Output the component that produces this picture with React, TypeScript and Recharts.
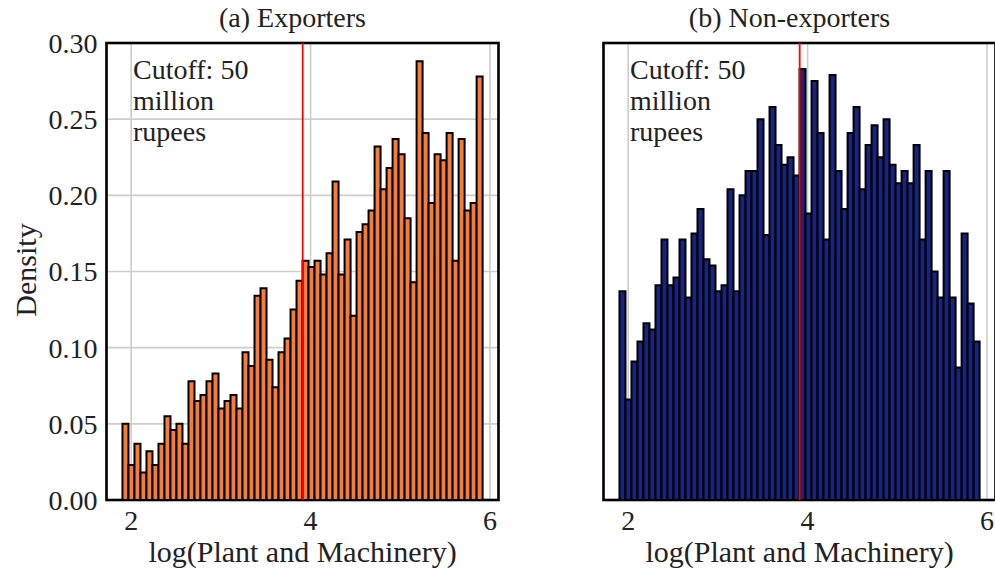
import {
  Bar,
  BarChart,
  CartesianGrid,
  Customized,
  ReferenceLine,
  XAxis,
  YAxis,
} from "recharts";

// 60 histogram bins per panel, spanning BIN_RANGE on the log scale
const binIds = Array.from({ length: 60 }, (_, i) => `b${i}`);

const exportersDensity = [
  0.050, 0.023, 0.037, 0.018, 0.032, 0.023, 0.037, 0.055, 0.046, 0.050,
  0.037, 0.078, 0.065, 0.069, 0.078, 0.083, 0.060, 0.065, 0.069, 0.060,
  0.097, 0.088, 0.134, 0.139, 0.092, 0.074, 0.097, 0.106, 0.125, 0.144,
  0.157, 0.153, 0.157, 0.148, 0.162, 0.209, 0.148, 0.171, 0.121, 0.176,
  0.181, 0.190, 0.232, 0.204, 0.218, 0.237, 0.227, 0.185, 0.143, 0.288,
  0.241, 0.195, 0.227, 0.223, 0.241, 0.157, 0.237, 0.190, 0.195, 0.278,
];

const nonExportersDensity = [
  0.137, 0.066, 0.091, 0.104, 0.116, 0.112, 0.141, 0.171, 0.141, 0.146,
  0.171, 0.133, 0.175, 0.191, 0.158, 0.154, 0.137, 0.141, 0.204, 0.137,
  0.200, 0.216, 0.216, 0.250, 0.174, 0.258, 0.233, 0.220, 0.225, 0.213,
  0.283, 0.188, 0.275, 0.241, 0.171, 0.279, 0.216, 0.191, 0.241, 0.258,
  0.204, 0.233, 0.246, 0.225, 0.250, 0.220, 0.208, 0.216, 0.208, 0.233,
  0.171, 0.216, 0.150, 0.133, 0.216, 0.133, 0.087, 0.175, 0.129, 0.104,
];

const xTicks = [2, 4, 6];
const yTicks = [0, 0.05, 0.1, 0.15, 0.2, 0.25, 0.3];
const X_DOMAIN: [number, number] = [1.725, 6.095];
const BIN_RANGE: [number, number] = [1.903, 5.918];
const CUTOFF = 3.912; // log(50)
const annotation = ["Cutoff: 50", "million", "rupees"];

const FONT = "'Liberation Serif', 'Times New Roman', serif";
const TEXT = "#222";
const PLOT_TOP = 43;
const PLOT_H = 457;
const PLOT_W = 392;
const HEIGHT = 575;

const pxPerUnit = PLOT_W / (X_DOMAIN[1] - X_DOMAIN[0]);
const padLeft = (BIN_RANGE[0] - X_DOMAIN[0]) * pxPerUnit;
const padRight = (X_DOMAIN[1] - BIN_RANGE[1]) * pxPerUnit;
const binWidth = (BIN_RANGE[1] - BIN_RANGE[0]) / binIds.length;

const tickStyle = { fontSize: 28, fontFamily: FONT, fill: TEXT };

type PanelProps = {
  title: string;
  values: number[];
  fill: string;
  left: number;
  yAxisWidth: number;
  rightMargin: number;
  showYLabels: boolean;
};

function Panel({ title, values, fill, left, yAxisWidth, rightMargin, showYLabels }: PanelProps) {
  const rows = values.map((v, i) => ({
    bin: binIds[i],
    x: BIN_RANGE[0] + (i + 0.5) * binWidth,
    density: v,
  }));
  const width = yAxisWidth + PLOT_W + rightMargin;
  const plotCenter = yAxisWidth + PLOT_W / 2;
  const textX = yAxisWidth + 26.5;

  // frame, title, annotation and axis titles
  const Overlay = () => (
    <g fontFamily={FONT} fill={TEXT}>
      <rect
        x={yAxisWidth}
        y={PLOT_TOP}
        width={PLOT_W}
        height={PLOT_H}
        fill="none"
        stroke="#000"
        strokeWidth={2.6}
      />
      <text x={plotCenter - 10} y={27} textAnchor="middle" fontSize={28}>
        {title}
      </text>
      {annotation.map((line, i) => (
        <text key={line} x={textX} y={79 + i * 31} fontSize={28}>
          {line}
        </text>
      ))}
      {showYLabels && (
        <text transform="translate(36,270) rotate(-90)" textAnchor="middle" fontSize={30}>
          Density
        </text>
      )}
      <text x={plotCenter} y={562} textAnchor="middle" fontSize={30}>
        log(Plant and Machinery)
      </text>
    </g>
  );

  return (
    <div style={{ position: "absolute", left, top: 0 }}>
      <BarChart
        width={width}
        height={HEIGHT}
        data={rows}
        margin={{ top: PLOT_TOP, right: rightMargin, bottom: 0, left: 0 }}
        barCategoryGap={0}
        barGap={0}
      >
        <CartesianGrid xAxisId="num" stroke="#cdcdcd" strokeWidth={1.6} />
        <XAxis
          xAxisId="num"
          dataKey="x"
          type="number"
          domain={X_DOMAIN}
          ticks={xTicks}
          allowDataOverflow
          axisLine={false}
          tickLine={false}
          tickSize={0}
          tickMargin={10}
          height={HEIGHT - PLOT_TOP - PLOT_H}
          tick={tickStyle}
        />
        <XAxis
          xAxisId="bins"
          dataKey="bin"
          type="category"
          hide
          height={0}
          padding={{ left: padLeft, right: padRight }}
        />
        <YAxis
          type="number"
          domain={[0, 0.3]}
          ticks={yTicks}
          allowDataOverflow
          width={yAxisWidth}
          axisLine={false}
          tickLine={false}
          tickSize={0}
          tickMargin={9}
          tick={showYLabels ? tickStyle : false}
          tickFormatter={(v: number) => v.toFixed(2)}
        />
        <Bar
          xAxisId="bins"
          dataKey="density"
          fill={fill}
          stroke="#000"
          strokeWidth={2}
          isAnimationActive={false}
        />
        <ReferenceLine xAxisId="num" x={CUTOFF} stroke="#ff0000" strokeWidth={1.8} />
        <Customized component={Overlay} />
      </BarChart>
    </div>
  );
}

export default function App() {
  return (
    <div
      style={{
        position: "absolute",
        left: 0,
        top: 0,
        width: 995,
        height: HEIGHT,
        overflow: "hidden",
        background: "#fff",
      }}
    >
      <Panel
        title="(a) Exporters"
        values={exportersDensity}
        fill="#f47d3a"
        left={0}
        yAxisWidth={106.5}
        rightMargin={11.5}
        showYLabels
      />
      <Panel
        title="(b) Non-exporters"
        values={nonExportersDensity}
        fill="#172483"
        left={590}
        yAxisWidth={13.5}
        rightMargin={4.5}
        showYLabels={false}
      />
    </div>
  );
}
